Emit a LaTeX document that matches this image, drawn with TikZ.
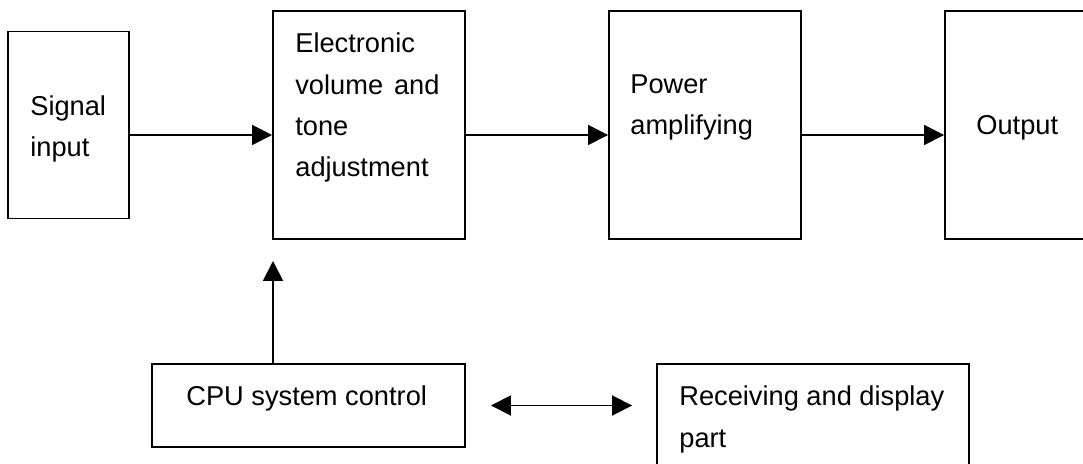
\documentclass[tikz,border=0pt]{standalone}
\usepackage{fontspec}
\setmainfont{Liberation Sans}
\usetikzlibrary{arrows.meta}

\begin{document}
\begin{tikzpicture}[
      block/.style ={draw, line width=1.1pt, inner sep=0pt},
      blocktext/.style ={anchor=base west, align=left, inner sep=0pt, font=\fontsize{15.5}{23.6}\selectfont},
      flow/.style ={line width=1.1pt, -{Triangle[length=0.4cm, width=0.4cm]}},
      twoway/.style ={line width=1.1pt, {Triangle[length=0.4cm, width=0.4cm]}-{Triangle[length=0.4cm, width=0.4cm]}}]
   \useasboundingbox (0,0) rectangle (21.66,-9.28);
   \clip (0,0) rectangle (21.66,-9.28);

   \node[block, minimum width=2.42cm, minimum height=3.74cm] (S) at (1.37,-2.5) {};
   \node[block, minimum width=3.84cm, minimum height=4.56cm] (E) at (7.38,-2.5) {};
   \node[block, minimum width=3.84cm, minimum height=4.56cm] (P) at (14.1,-2.5) {};
   \node[block, minimum width=3.84cm, minimum height=4.56cm] (O) at (20.82,-2.5) {};

   \node[block, minimum width=6.26cm, minimum height=1.66cm] (C) at (6.17,-8.11) {};
   \node[block, minimum width=6.24cm, minimum height=2.2cm] (R) at (16.26,-8.38) {};

   % base anchor sits on the last line
   \node[blocktext] (St) at (0.6,-3.14) {Signal\\input};
   \node[blocktext] (Et) at (5.9,-3.54) {Electronic\\volume\hspace{0.4em}and\\tone\\adjustment};
   \node[blocktext] (Pt) at (12.6,-2.7) {Power\\amplifying};
   \node[blocktext] (Ot) at (19.52,-2.7) {Output};
   \node[blocktext] (Ct) at (3.72,-8.12) {CPU system control};
   \node[blocktext] (Rt) at (13.58,-8.94) {Receiving and display\\part};

   \coordinate (ctl) at (5.46,-5.22);

   \draw[flow] ([yshift=-0.2cm]S.east) to ([yshift=-0.2cm]E.west);
   \draw[flow] ([yshift=-0.2cm]E.east) to ([yshift=-0.2cm]P.west);
   \draw[flow] ([yshift=-0.2cm]P.east) to ([yshift=-0.2cm]O.west);
   \draw[flow] (C.north -| ctl) to (ctl);
   \draw[twoway, shorten <=0.5cm, shorten >=0.48cm] (C.east) to (C.east -| R.west);
\end{tikzpicture}
\end{document}
